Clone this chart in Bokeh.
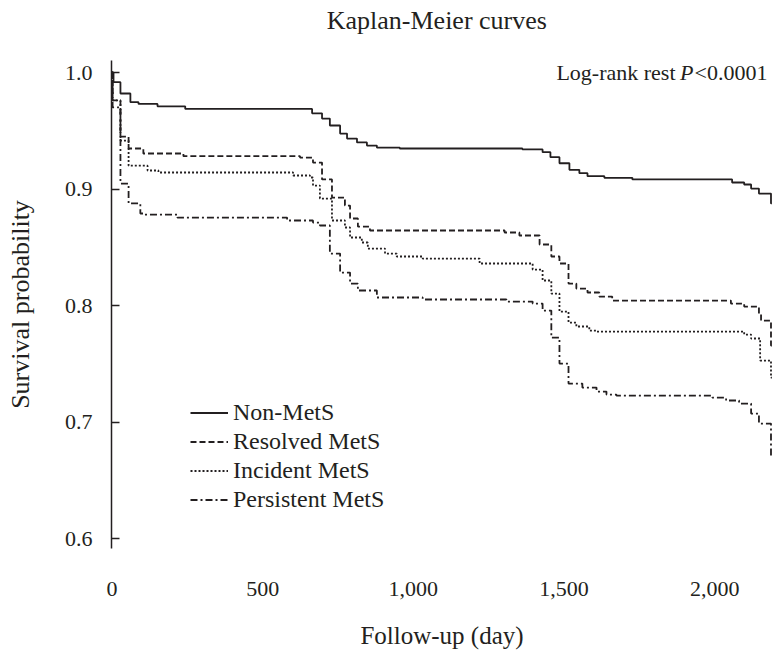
from bokeh.plotting import figure
from bokeh.layouts import column
from bokeh.models import Legend, LegendItem, Label, Range1d, NumeralTickFormatter, FixedTicker
from bokeh.embed import file_html
from bokeh.resources import INLINE

title_text = "Kaplan-Meier curves"
x_label = "Follow-up (day)"
y_label = "Survival probability"
x_ticks = [0, 500, 1000, 1500, 2000]
y_ticks = [0.6, 0.7, 0.8, 0.9, 1.0]
series_names = ["Non-MetS", "Resolved MetS", "Incident MetS", "Persistent MetS"]

non_t = [0, 5, 28, 61, 88, 151, 243, 664, 697, 723, 757, 780, 813, 846, 879, 955, 1362, 1429, 1455, 1485,
         1518, 1551, 1578, 1634, 1727, 2058, 2098, 2121, 2147, 2187, 2190]
non_s = [1.000, 0.9917, 0.982, 0.9745, 0.973, 0.971, 0.9687, 0.965, 0.9605, 0.9545, 0.9476, 0.9433, 0.940,
         0.9373, 0.9356, 0.9348, 0.934, 0.9316, 0.9273, 0.9221, 0.9165, 0.9136, 0.911, 0.9096, 0.9082,
         0.9056, 0.9039, 0.9004, 0.8961, 0.8876, 0.8876]

res_t = [0, 2, 28, 55, 104, 237, 624, 667, 697, 730, 773, 790, 816, 856, 1303, 1352, 1419, 1458, 1485, 1515,
         1541, 1578, 1617, 1660, 2054, 2098, 2147, 2154, 2187, 2190]
res_s = [1.000, 0.976, 0.945, 0.9348, 0.9305, 0.9282, 0.927, 0.9227, 0.9082, 0.8927, 0.8858, 0.8747, 0.8678,
         0.8644, 0.8627, 0.8601, 0.8524, 0.8421, 0.8361, 0.8189, 0.8146, 0.8112, 0.8077, 0.8043, 0.8017,
         0.7991, 0.7931, 0.7871, 0.7657, 0.7657]

inc_t = [0, 2, 28, 55, 118, 154, 601, 657, 667, 690, 730, 773, 790, 829, 849, 906, 945, 1031, 1220, 1396,
         1429, 1458, 1485, 1515, 1541, 1584, 1608, 2098, 2121, 2151, 2187, 2190]
inc_s = [1.000, 0.976, 0.9416, 0.920, 0.9159, 0.9142, 0.9116, 0.9099, 0.903, 0.8918, 0.873, 0.867, 0.8584,
         0.8541, 0.8489, 0.8446, 0.8421, 0.8403, 0.8361, 0.8309, 0.8215, 0.8103, 0.7948, 0.7854, 0.782,
         0.7785, 0.7777, 0.7751, 0.7717, 0.7528, 0.7382, 0.7382]

per_t = [0, 2, 28, 55, 94, 104, 217, 581, 667, 690, 723, 757, 790, 816, 879, 1031, 1309, 1396, 1429, 1458,
         1485, 1515, 1561, 1608, 1641, 1674, 1992, 2038, 2081, 2121, 2147, 2187, 2190]
per_s = [1.000, 0.970, 0.9047, 0.8876, 0.879, 0.8781, 0.8755, 0.873, 0.8712, 0.8687, 0.8446, 0.8283, 0.8189,
         0.8129, 0.8069, 0.8052, 0.8034, 0.8017, 0.7957, 0.7725, 0.7502, 0.733, 0.7296, 0.7262, 0.7236,
         0.7227, 0.721, 0.7185, 0.7159, 0.7073, 0.6987, 0.6695, 0.6695]

INK = "#231f20"
FONT = "Liberation Serif"
X_START, X_END = -1.7, 2192

# --- title strip (its own small figure, so the text is not clipped by the chart frame)
pt = figure(width=772, height=60, output_backend="svg", toolbar_location=None,
            x_range=Range1d(X_START, X_END), y_range=Range1d(0, 60),
            x_axis_location=None, y_axis_location=None,
            min_border_left=111, min_border_right=0, min_border_top=0, min_border_bottom=0)
pt.outline_line_color = None
pt.grid.visible = False
pt.add_layout(Label(x=1078, y=40, text=title_text, text_align="center", text_baseline="middle",
                    text_font=FONT, text_font_size="26px", text_color=INK))

# --- main chart
p = figure(width=772, height=592, output_backend="svg", toolbar_location=None,
           x_range=Range1d(X_START, X_END), y_range=Range1d(0.5915, 1.0103),
           min_border_left=111, min_border_right=0, min_border_top=0, min_border_bottom=104)
p.outline_line_color = None
p.xgrid.grid_line_color = None
p.ygrid.grid_line_color = None

styles = [("solid", 1.8), ("6 3", 1.8), ("2 2", 1.8), ("7 3 2 3", 1.8)]
data = [(non_t, non_s), (res_t, res_s), (inc_t, inc_s), (per_t, per_s)]
renderers = []
for (t, s), (dash, lw) in zip(data, styles):
    r = p.step(t, s, mode="after", line_color=INK, line_width=lw, line_dash=dash)
    renderers.append(r)

legend = Legend(items=[LegendItem(label=n, renderers=[r]) for n, r in zip(series_names, renderers)],
                location=(79, 34), padding=0, margin=0, spacing=0,
                glyph_width=38, glyph_height=29, label_height=29, label_standoff=5,
                label_text_font=FONT, label_text_font_size="24px", label_text_color=INK,
                border_line_color=None, background_fill_alpha=0)
p.add_layout(legend, "center")

# axes
p.xaxis.ticker = FixedTicker(ticks=x_ticks)
p.xaxis.formatter = NumeralTickFormatter(format="0,0")
p.xaxis.axis_line_color = None
p.xaxis.major_tick_line_color = None
p.xaxis.minor_tick_line_color = None
p.xaxis.major_label_standoff = 27
p.xaxis.major_label_text_font = FONT
p.xaxis.major_label_text_font_size = "22px"
p.xaxis.major_label_text_color = INK
p.xaxis.axis_label = x_label
p.xaxis.axis_label_text_font = FONT
p.xaxis.axis_label_text_font_size = "25px"
p.xaxis.axis_label_text_font_style = "normal"
p.xaxis.axis_label_text_color = INK
p.xaxis.axis_label_standoff = 23

p.yaxis.ticker = FixedTicker(ticks=y_ticks)
p.yaxis.formatter = NumeralTickFormatter(format="0.0")
p.yaxis.axis_line_color = INK
p.yaxis.axis_line_width = 1.5
p.yaxis.major_tick_line_color = INK
p.yaxis.major_tick_line_width = 1.5
p.yaxis.major_tick_in = 8
p.yaxis.major_tick_out = 0
p.yaxis.minor_tick_line_color = None
p.yaxis.major_label_standoff = 19
p.yaxis.major_label_text_font = FONT
p.yaxis.major_label_text_font_size = "22px"
p.yaxis.major_label_text_color = INK
p.yaxis.axis_label = y_label
p.yaxis.axis_label_text_font = FONT
p.yaxis.axis_label_text_font_size = "26px"
p.yaxis.axis_label_text_font_style = "normal"
p.yaxis.axis_label_text_color = INK
p.yaxis.axis_label_standoff = 27

# annotation: Log-rank rest P<0.0001
ann_x = X_END
ann_y = 1.0
p.add_layout(Label(x=ann_x, y=ann_y, text="<0.0001", text_align="right", text_baseline="middle",
                   x_offset=-5, text_font=FONT, text_font_size="22px", text_color=INK))
p.add_layout(Label(x=ann_x, y=ann_y, text="P", text_align="right", text_baseline="middle",
                   x_offset=-79, text_font=FONT, text_font_size="22px", text_font_style="italic",
                   text_color=INK))
p.add_layout(Label(x=ann_x, y=ann_y, text="Log-rank rest", text_align="right", text_baseline="middle",
                   x_offset=-97, text_font=FONT, text_font_size="22px", text_color=INK))

layout = column(pt, p, spacing=0)
open("out.html", "w").write(file_html(layout, INLINE))
